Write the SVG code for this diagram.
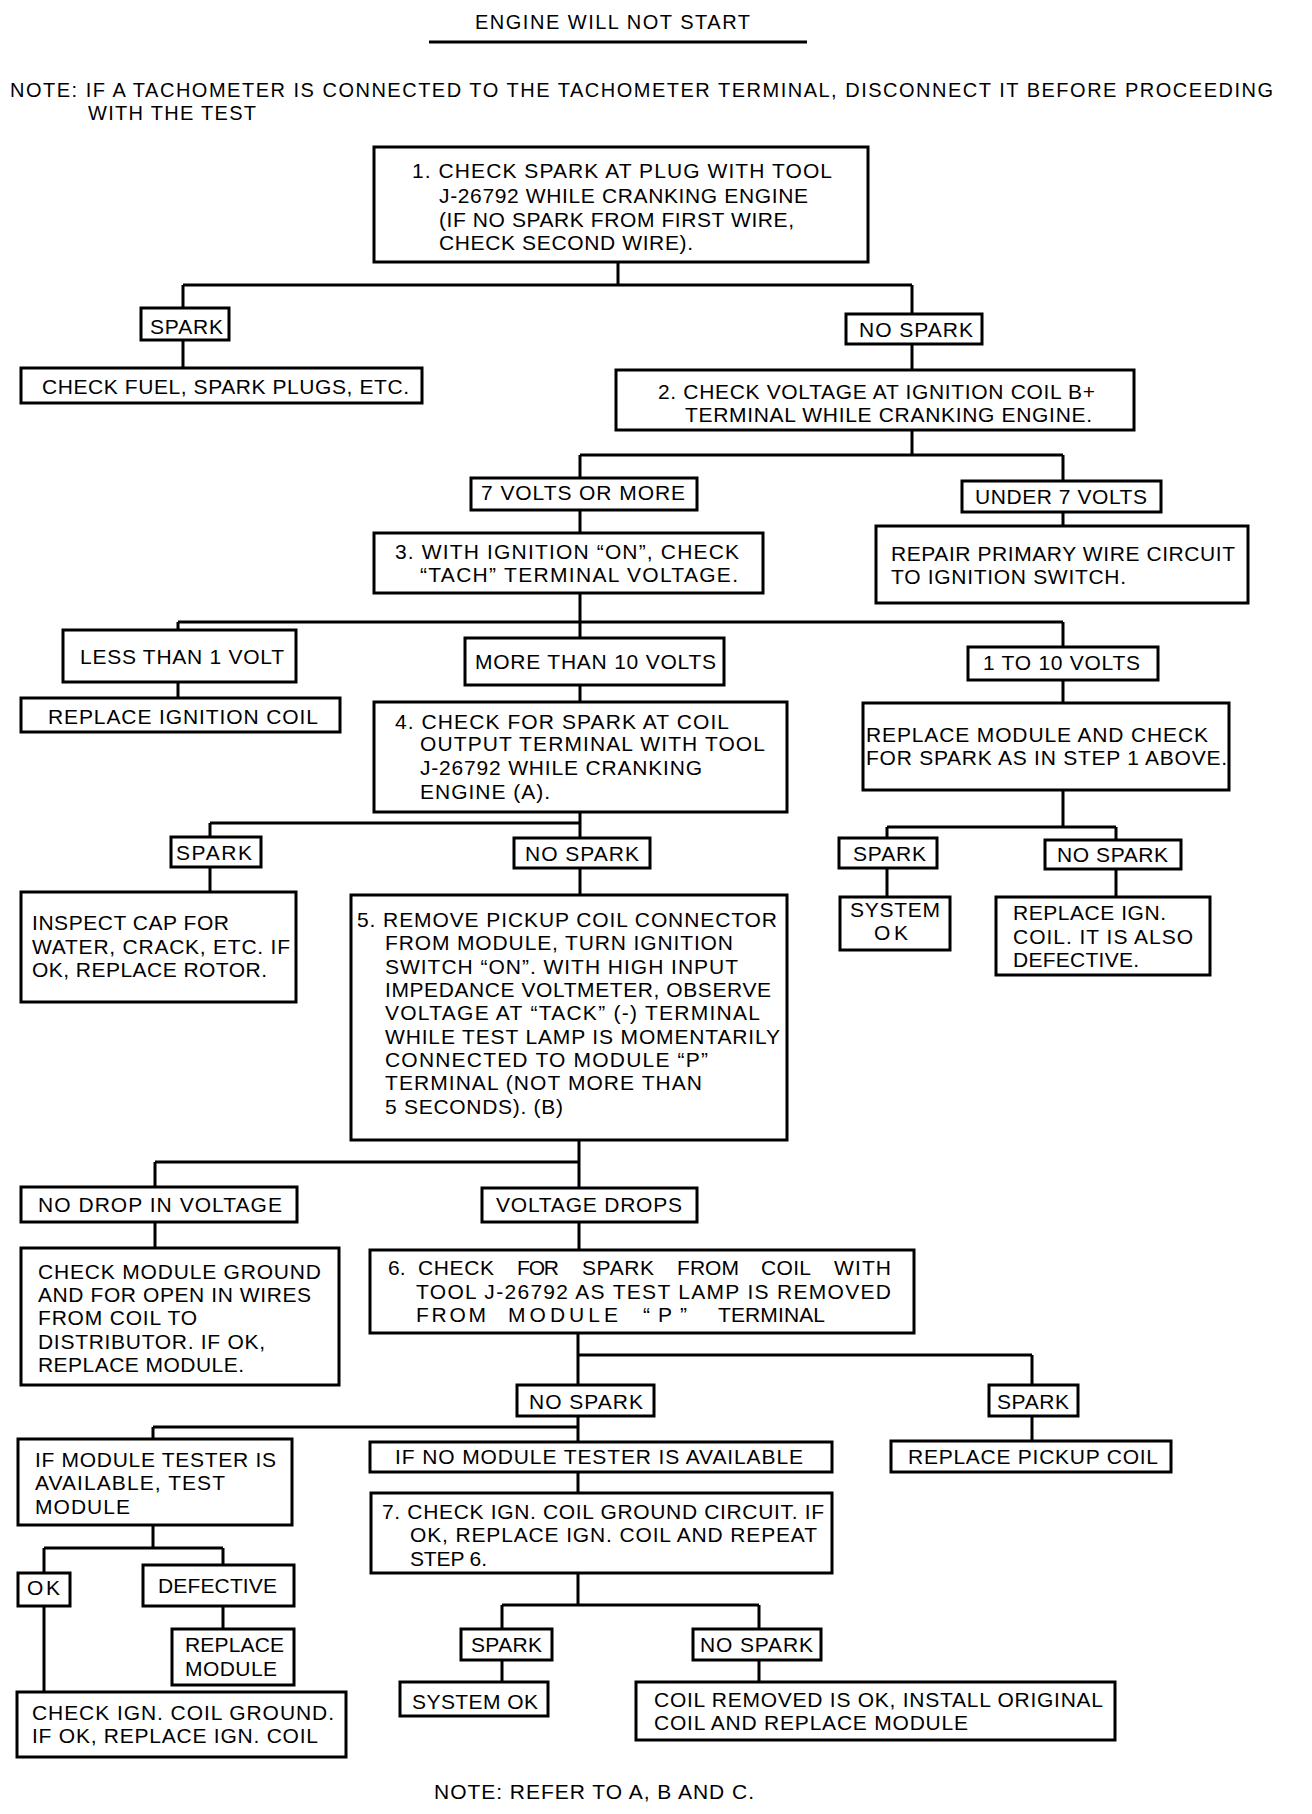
<svg xmlns="http://www.w3.org/2000/svg" width="1312" height="1814" viewBox="0 0 1312 1814">
<style>
text{font-family:"Liberation Sans",Arial,Helvetica,sans-serif;font-size:21px;fill:#000}
.title{font-size:20px}
.note{font-size:20px}
rect{fill:#fff;stroke:#000;stroke-width:3}
#connectors path{fill:none;stroke:#000;stroke-width:3}
</style>
<rect x="0" y="0" width="1312" height="1814" style="fill:#fff;stroke:none"/>
<g id="header">
<text class="title" x="475" y="29" textLength="275">ENGINE WILL NOT START</text>
<path d="M429 42H807" stroke="#000" stroke-width="3"/>
<text class="note" x="10" y="97" textLength="1263">NOTE: IF A TACHOMETER IS CONNECTED TO THE TACHOMETER TERMINAL, DISCONNECT IT BEFORE PROCEEDING</text>
<text class="note" x="88" y="120" textLength="168">WITH THE TEST</text>
</g>
<g id="connectors">
<path d="M618 262V285M183 285H912M183 285V308M912 285V314"/>
<path d="M183 340V368M912 344V370"/>
<path d="M912 430V455M580 455H1063M580 455V478M1063 455V481"/>
<path d="M580 510V533M1063 512V526"/>
<path d="M580 593V622M178 622H1063M178 622V630M580 622V638M1063 622V647"/>
<path d="M178 682V698M580 685V702M1063 680V703"/>
<path d="M580 812V823M210 823H580M210 823V837M580 823V838"/>
<path d="M1063 790V827M887 827H1116M887 827V838M1116 827V840"/>
<path d="M210 867V892M580 868V895M887 868V897M1116 869V897"/>
<path d="M579 1140V1162M155 1162H579M155 1162V1187M579 1162V1188"/>
<path d="M155 1222V1248M579 1222V1250"/>
<path d="M578 1333V1355M578 1355H1032M578 1355V1385M1032 1355V1385"/>
<path d="M1032 1416V1441M578 1416V1427M153 1427H578M153 1427V1439M578 1427V1442"/>
<path d="M578 1472V1493"/>
<path d="M153 1525V1548M44 1548H223M44 1548V1573M223 1548V1565"/>
<path d="M223 1606V1629M44 1606V1692"/>
<path d="M578 1573V1605M502 1605H759M502 1605V1629M759 1605V1629"/>
<path d="M502 1660V1682M759 1660V1682"/>
</g>
<g id="n1">
<rect x="374" y="147" width="494" height="115"/>
<text x="412" y="178" textLength="420">1. CHECK SPARK AT PLUG WITH TOOL</text>
<text x="439" y="203" textLength="369">J-26792 WHILE CRANKING ENGINE</text>
<text x="439" y="227" textLength="355">(IF NO SPARK FROM FIRST WIRE,</text>
<text x="439" y="250" textLength="254">CHECK SECOND WIRE).</text>
</g>
<g id="l_spark1"><rect x="141" y="308" width="88" height="32"/><text x="150" y="334" textLength="73">SPARK</text></g>
<g id="l_nospark1"><rect x="846" y="314" width="136" height="30"/><text x="859" y="337" textLength="114">NO SPARK</text></g>
<g id="n_fuel"><rect x="21" y="368" width="401" height="35"/><text x="42" y="394" textLength="367">CHECK FUEL, SPARK PLUGS, ETC.</text></g>
<g id="n2">
<rect x="616" y="370" width="518" height="60"/>
<text x="658" y="399" textLength="437">2. CHECK VOLTAGE AT IGNITION COIL B+</text>
<text x="685" y="422" textLength="407">TERMINAL WHILE CRANKING ENGINE.</text>
</g>
<g id="l_7v"><rect x="471" y="478" width="226" height="32"/><text x="481" y="500" textLength="204">7 VOLTS OR MORE</text></g>
<g id="l_under7"><rect x="962" y="481" width="199" height="31"/><text x="975" y="504" textLength="172">UNDER 7 VOLTS</text></g>
<g id="n3">
<rect x="374" y="533" width="389" height="60"/>
<text x="395" y="559" textLength="344">3. WITH IGNITION “ON”, CHECK</text>
<text x="420" y="582" textLength="318">“TACH” TERMINAL VOLTAGE.</text>
</g>
<g id="n_repair">
<rect x="876" y="526" width="372" height="77"/>
<text x="891" y="561" textLength="344">REPAIR PRIMARY WIRE CIRCUIT</text>
<text x="891" y="584" textLength="235">TO IGNITION SWITCH.</text>
</g>
<g id="l_less1"><rect x="63" y="630" width="233" height="52"/><text x="80" y="664" textLength="204">LESS THAN 1 VOLT</text></g>
<g id="l_more10"><rect x="465" y="638" width="259" height="47"/><text x="475" y="669" textLength="241">MORE THAN 10 VOLTS</text></g>
<g id="l_1to10"><rect x="968" y="647" width="190" height="33"/><text x="983" y="670" textLength="157">1 TO 10 VOLTS</text></g>
<g id="n_repcoil"><rect x="21" y="698" width="319" height="34"/><text x="48" y="724" textLength="270">REPLACE IGNITION COIL</text></g>
<g id="n4">
<rect x="374" y="702" width="413" height="110"/>
<text x="395" y="729" textLength="334">4. CHECK FOR SPARK AT COIL</text>
<text x="420" y="751" textLength="345">OUTPUT TERMINAL WITH TOOL</text>
<text x="420" y="775" textLength="282">J-26792 WHILE CRANKING</text>
<text x="420" y="799" textLength="130">ENGINE (A).</text>
</g>
<g id="n_repmod1">
<rect x="863" y="703" width="366" height="87"/>
<text x="866" y="742" textLength="342">REPLACE MODULE AND CHECK</text>
<text x="866" y="765" textLength="361">FOR SPARK AS IN STEP 1 ABOVE.</text>
</g>
<g id="l_spark2"><rect x="171" y="837" width="90" height="30"/><text x="176" y="860" textLength="76">SPARK</text></g>
<g id="l_nospark2"><rect x="514" y="838" width="136" height="30"/><text x="525" y="861" textLength="114">NO SPARK</text></g>
<g id="l_spark3"><rect x="839" y="838" width="98" height="30"/><text x="853" y="861" textLength="73">SPARK</text></g>
<g id="l_nospark3"><rect x="1045" y="840" width="136" height="29"/><text x="1057" y="862" textLength="111">NO SPARK</text></g>
<g id="n_inspect">
<rect x="21" y="892" width="275" height="110"/>
<text x="32" y="930" textLength="197">INSPECT CAP FOR</text>
<text x="32" y="954" textLength="258">WATER, CRACK, ETC. IF</text>
<text x="32" y="977" textLength="235">OK, REPLACE ROTOR.</text>
</g>
<g id="n5">
<rect x="351" y="895" width="436" height="245"/>
<text x="357" y="927" textLength="420">5. REMOVE PICKUP COIL CONNECTOR</text>
<text x="385" y="950" textLength="348">FROM MODULE, TURN IGNITION</text>
<text x="385" y="974" textLength="353">SWITCH “ON”. WITH HIGH INPUT</text>
<text x="385" y="997" textLength="386">IMPEDANCE VOLTMETER, OBSERVE</text>
<text x="385" y="1020" textLength="375">VOLTAGE AT “TACK” (-) TERMINAL</text>
<text x="385" y="1044" textLength="395">WHILE TEST LAMP IS MOMENTARILY</text>
<text x="385" y="1067" textLength="323">CONNECTED TO MODULE “P”</text>
<text x="385" y="1090" textLength="317">TERMINAL (NOT MORE THAN</text>
<text x="385" y="1114" textLength="178">5 SECONDS). (B)</text>
</g>
<g id="n_sysok1">
<rect x="840" y="897" width="110" height="53"/>
<text x="850" y="917" textLength="90">SYSTEM</text>
<text x="874" y="940" textLength="34">OK</text>
</g>
<g id="n_repign">
<rect x="996" y="897" width="214" height="78"/>
<text x="1013" y="920" textLength="153">REPLACE IGN.</text>
<text x="1013" y="944" textLength="180">COIL. IT IS ALSO</text>
<text x="1013" y="967" textLength="126">DEFECTIVE.</text>
</g>
<g id="l_nodrop"><rect x="21" y="1187" width="276" height="35"/><text x="38" y="1212" textLength="244">NO DROP IN VOLTAGE</text></g>
<g id="l_vdrops"><rect x="482" y="1188" width="215" height="34"/><text x="496" y="1212" textLength="186">VOLTAGE DROPS</text></g>
<g id="n_modground">
<rect x="21" y="1248" width="318" height="137"/>
<text x="38" y="1279" textLength="283">CHECK MODULE GROUND</text>
<text x="38" y="1302" textLength="273">AND FOR OPEN IN WIRES</text>
<text x="38" y="1325" textLength="159">FROM COIL TO</text>
<text x="38" y="1349" textLength="227">DISTRIBUTOR. IF OK,</text>
<text x="38" y="1372" textLength="206">REPLACE MODULE.</text>
</g>
<g id="n6">
<rect x="370" y="1250" width="544" height="83"/>
<text x="388" y="1275">6.</text>
<text x="418" y="1275" textLength="76">CHECK</text>
<text x="517" y="1275" textLength="42">FOR</text>
<text x="582" y="1275" textLength="72">SPARK</text>
<text x="677" y="1275" textLength="62">FROM</text>
<text x="761" y="1275" textLength="50">COIL</text>
<text x="834" y="1275" textLength="57">WITH</text>
<text x="416" y="1299" textLength="475">TOOL J-26792 AS TEST LAMP IS REMOVED</text>
<text x="416" y="1322" textLength="70">FROM</text>
<text x="508" y="1322" textLength="110">MODULE</text>
<text x="643" y="1322" textLength="44">“P”</text>
<text x="718" y="1322" textLength="107">TERMINAL</text>
</g>
<g id="l_nospark4"><rect x="517" y="1385" width="137" height="31"/><text x="529" y="1409" textLength="114">NO SPARK</text></g>
<g id="l_spark4"><rect x="989" y="1385" width="89" height="31"/><text x="997" y="1409" textLength="72">SPARK</text></g>
<g id="n_pickup"><rect x="891" y="1441" width="280" height="31"/><text x="908" y="1464" textLength="250">REPLACE PICKUP COIL</text></g>
<g id="n_tester">
<rect x="18" y="1439" width="274" height="86"/>
<text x="35" y="1467" textLength="241">IF MODULE TESTER IS</text>
<text x="35" y="1490" textLength="190">AVAILABLE, TEST</text>
<text x="35" y="1514" textLength="95">MODULE</text>
</g>
<g id="l_notester"><rect x="370" y="1442" width="462" height="30"/><text x="395" y="1464" textLength="408">IF NO MODULE TESTER IS AVAILABLE</text></g>
<g id="n7">
<rect x="371" y="1493" width="461" height="80"/>
<text x="382" y="1519" textLength="442">7. CHECK IGN. COIL GROUND CIRCUIT. IF</text>
<text x="410" y="1542" textLength="407">OK, REPLACE IGN. COIL AND REPEAT</text>
<text x="410" y="1566" textLength="77">STEP 6.</text>
</g>
<g id="l_ok"><rect x="18" y="1573" width="52" height="33"/><text x="27" y="1595" textLength="33">OK</text></g>
<g id="l_defective"><rect x="143" y="1565" width="151" height="41"/><text x="158" y="1593" textLength="119">DEFECTIVE</text></g>
<g id="n_repmod2">
<rect x="172" y="1629" width="122" height="56"/>
<text x="185" y="1652" textLength="99">REPLACE</text>
<text x="185" y="1676" textLength="92">MODULE</text>
</g>
<g id="n_ignground">
<rect x="17" y="1692" width="329" height="65"/>
<text x="32" y="1720" textLength="302">CHECK IGN. COIL GROUND.</text>
<text x="32" y="1743" textLength="286">IF OK, REPLACE IGN. COIL</text>
</g>
<g id="l_spark5"><rect x="461" y="1629" width="91" height="31"/><text x="471" y="1652" textLength="71">SPARK</text></g>
<g id="l_nospark5"><rect x="693" y="1629" width="128" height="31"/><text x="700" y="1652" textLength="113">NO SPARK</text></g>
<g id="n_sysok2"><rect x="400" y="1682" width="148" height="34"/><text x="412" y="1709" textLength="126">SYSTEM OK</text></g>
<g id="n_coilrem">
<rect x="636" y="1682" width="479" height="58"/>
<text x="654" y="1707" textLength="449">COIL REMOVED IS OK, INSTALL ORIGINAL</text>
<text x="654" y="1730" textLength="314">COIL AND REPLACE MODULE</text>
</g>
<g id="footer"><text x="434" y="1799" textLength="320">NOTE: REFER TO A, B AND C.</text></g>
</svg>
